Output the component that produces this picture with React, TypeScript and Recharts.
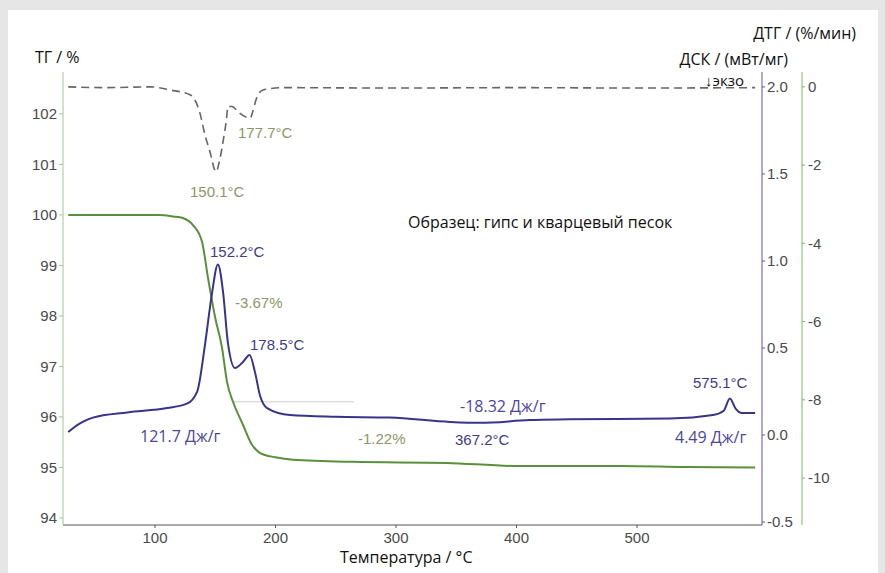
import React from 'react';
import { ComposedChart, Line, XAxis, YAxis, ReferenceLine } from 'recharts';

// TG, %
const tgTemp = [28, 60, 104, 115, 123, 131.5, 139, 144, 150, 155.6, 159.7, 164.7, 172, 180.5, 187, 200, 214.5, 264, 342, 397, 486, 540, 598];
const tgValues = [100, 100, 100, 99.97, 99.94, 99.8, 99.47, 98.75, 97.96, 97.37, 96.7, 96.3, 95.9, 95.45, 95.29, 95.2, 95.15, 95.11, 95.09, 95.03, 95.03, 95.01, 95.0];

// DSC, mW/mg
const dscTemp = [28, 33, 40, 48.5, 77, 110, 126.5, 135, 141.5, 147, 152.2, 156.5, 160.5, 166.4, 173, 178.5, 183, 187, 193, 212, 250, 295, 345, 370, 411, 444, 527, 563, 572, 577, 582, 587, 598];
const dscValues = [0.017, 0.045, 0.075, 0.1, 0.13, 0.155, 0.18, 0.25, 0.52, 0.8, 0.98, 0.82, 0.53, 0.385, 0.42, 0.46, 0.36, 0.23, 0.155, 0.115, 0.105, 0.1, 0.075, 0.07, 0.086, 0.09, 0.095, 0.115, 0.14, 0.21, 0.15, 0.126, 0.126];

// DTG, %/min
const dtgTemp = [28, 60, 96, 112.5, 129, 137, 141.5, 145.6, 150.6, 154, 157, 159, 160.6, 164, 169, 179, 181, 184.5, 189.6, 206, 300, 400, 500, 598];
const dtgValues = [0, -0.02, 0, -0.08, -0.2, -0.64, -1.23, -1.66, -2.17, -1.82, -1.3, -0.9, -0.5, -0.5, -0.64, -0.8, -0.64, -0.27, -0.08, -0.02, -0.03, -0.02, -0.03, -0.02];

const xTicks = [100, 200, 300, 400, 500];
const tgTicks = [94, 95, 96, 97, 98, 99, 100, 101, 102];
const dscTicks = [-0.5, 0, 0.5, 1, 1.5, 2];
const dtgTicks = [-10, -8, -6, -4, -2, 0];

const rows = [
  ...tgTemp.map((t, i) => ({ t, tg: tgValues[i] })),
  ...dscTemp.map((t, i) => ({ t, dsc: dscValues[i] })),
  ...dtgTemp.map((t, i) => ({ t, dtg: dtgValues[i] })),
].sort((a, b) => a.t - b.t);

const tickStyle = { fill: '#4a4a4a', fontSize: 15, fontFamily: 'Liberation Sans, Arial, sans-serif' };
const OLIVE = '#8a9868';
const NAVY = '#3e3c8a';
const BLUE = '#4a45a0';

const Txt = ({ x, y, color, size = 15, font = 'Liberation Sans, Arial, sans-serif', bg, children, right, lh = 20 }: any) => (
  <div
    style={{
      position: 'absolute',
      top: y,
      ...(right !== undefined ? { right } : { left: x }),
      color,
      fontSize: size,
      fontFamily: font,
      lineHeight: `${lh}px`,
      whiteSpace: 'nowrap',
      background: bg,
      padding: bg ? '0 2px' : 0,
    }}
  >
    {children}
  </div>
);

const App = () => {
  return (
    <div style={{ position: 'absolute', left: 0, top: 0, width: 885, height: 573, background: '#e6e6e6', overflow: 'hidden' }}>
      <div style={{ position: 'absolute', left: 8, top: 10, width: 870, height: 563, background: '#fff' }} />
      <div style={{ position: 'absolute', left: 0, top: 0 }}>
        <ComposedChart width={885} height={573} data={rows} margin={{ top: 72, right: 33, bottom: 23, left: 13 }}>
          <XAxis
            type="number"
            dataKey="t"
            domain={[23.65, 603.7]}
            ticks={xTicks}
            allowDataOverflow
            tick={tickStyle}
            stroke="#555"
            tickSize={3}
            tickMargin={4}
            height={25}
          />
          <YAxis
            yAxisId="tg"
            orientation="left"
            domain={[93.86, 102.83]}
            ticks={tgTicks}
            allowDataOverflow
            width={50}
            tick={tickStyle}
            stroke="#a6c493"
            tickSize={4}
            tickMargin={2}
          />
          <YAxis
            yAxisId="dsc"
            orientation="right"
            domain={[-0.517, 2.086]}
            ticks={dscTicks}
            allowDataOverflow
            width={40}
            tick={tickStyle}
            tickFormatter={(v: number) => v.toFixed(1)}
            stroke="#5b55b0"
            tickSize={3}
            tickMargin={2}
          />
          <YAxis
            yAxisId="dtg"
            orientation="right"
            domain={[-11.2, 0.38]}
            ticks={dtgTicks}
            allowDataOverflow
            width={50}
            tick={tickStyle}
            stroke="#7cb85a"
            tickSize={3}
            tickMargin={3}
          />
          <ReferenceLine
            yAxisId="tg"
            segment={[{ x: 165, y: 96.3 }, { x: 265, y: 96.3 }]}
            stroke="#cfcfcf"
            strokeWidth={1}
          />
          <Line
            yAxisId="dtg"
            dataKey="dtg"
            type="monotone"
            connectNulls
            dot={false}
            stroke="#666"
            strokeWidth={1.6}
            strokeDasharray="8 5"
            isAnimationActive={false}
          />
          <Line
            yAxisId="tg"
            dataKey="tg"
            type="monotone"
            connectNulls
            dot={false}
            stroke="#5a8f3c"
            strokeWidth={2}
            isAnimationActive={false}
          />
          <Line
            yAxisId="dsc"
            dataKey="dsc"
            type="monotone"
            connectNulls
            dot={false}
            stroke="#37348a"
            strokeWidth={2}
            isAnimationActive={false}
          />
        </ComposedChart>
      </div>

      <Txt x={35} y={47} color="#111" size={16} font="Open Sans, sans-serif">ТГ / %</Txt>
      <Txt right={885 - 788} y={49} color="#111" size={16} font="Open Sans, sans-serif">ДСК / (мВт/мг)</Txt>
      <Txt right={885 - 856} y={23} color="#111" size={16} font="Open Sans, sans-serif">ДТГ / (%/мин)</Txt>
      <Txt x={705} y={70} color="#111" size={15} font="Open Sans, sans-serif">↓экзо</Txt>
      <Txt x={408} y={212} color="#111" size={16} font="Open Sans, sans-serif">Образец: гипс и кварцевый песок</Txt>
      <Txt x={338} y={549} lh={17} color="#111" size={16} font="Open Sans, sans-serif" bg="#fff">Температура / °C</Txt>

      <Txt x={190} y={182} color={OLIVE}>150.1°C</Txt>
      <Txt x={238} y={123} color={OLIVE}>177.7°C</Txt>
      <Txt x={210} y={242} color={NAVY}>152.2°C</Txt>
      <Txt x={235} y={293} color={OLIVE}>-3.67%</Txt>
      <Txt x={250} y={335} color={NAVY}>178.5°C</Txt>
      <Txt x={138} y={426} color={BLUE} size={16} font="Open Sans, sans-serif" bg="#fff">121.7 Дж/г</Txt>
      <Txt x={358} y={429} color={OLIVE}>-1.22%</Txt>
      <Txt x={455} y={430} color={NAVY}>367.2°C</Txt>
      <Txt x={458} y={396} color={BLUE} size={16} font="Open Sans, sans-serif" bg="#fff">-18.32 Дж/г</Txt>
      <Txt x={693} y={373} color={NAVY}>575.1°C</Txt>
      <Txt x={673} y={427} color={BLUE} size={16} font="Open Sans, sans-serif" bg="#fff">4.49 Дж/г</Txt>
    </div>
  );
};

export default App;
